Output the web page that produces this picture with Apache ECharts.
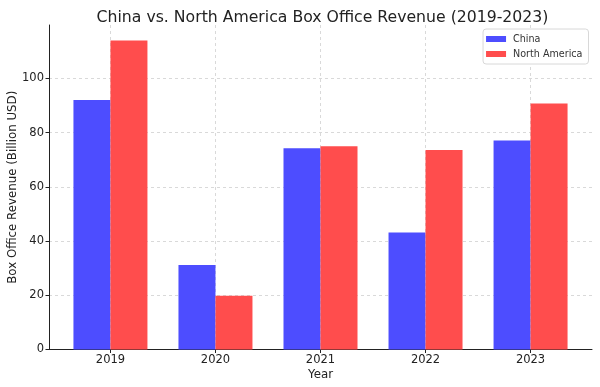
<!DOCTYPE html>
<html>
<head>
<meta charset="utf-8">
<script src="https://cdn.jsdelivr.net/npm/echarts@6/dist/echarts.min.js"></script>
<style>html,body{margin:0;padding:0;background:#fff}#c{width:600px;height:387px}</style>
</head>
<body>
<div id="c"></div>
<script>
const years = ['2019', '2020', '2021', '2022', '2023'];
const china = [92, 31.2, 74.2, 43.2, 77.1];
const northAmerica = [114, 19.8, 75, 73.6, 90.7];
const yTicks = [0, 20, 40, 60, 80, 100];

const font = 'DejaVu Sans';
const chart = echarts.init(document.getElementById('c'), null, {renderer: 'canvas'});
const idx = years.map((_, i) => i);
chart.setOption({
  animation: false,
  textStyle: {fontFamily: font},
  title: {
    text: 'China vs. North America Box Office Revenue (2019-2023)',
    left: 317.5, top: 5, textAlign: 'center',
    textStyle: {fontFamily: font, fontSize: 15.7, fontWeight: 'normal', color: '#222'}
  },
  legend: {
    right: 11.5, top: 29, orient: 'vertical', align: 'left',
    itemWidth: 20, itemHeight: 6, itemGap: 5,
    padding: [5, 6, 5, 3],
    borderColor: '#d8d8d8', borderWidth: 1, borderRadius: 3,
    backgroundColor: '#fff',
    textStyle: {fontFamily: font, fontSize: 9.6, color: '#333', padding: [0, 0, 0, 2]},
    data: [{name: 'China', icon: 'rect'}, {name: 'North America', icon: 'rect'}]
  },
  grid: {left: 49, right: 8, top: 25, bottom: 37.5, containLabel: false, outerBoundsMode: 'none'},
  xAxis: {
    type: 'value', min: -0.585, max: 4.585,
    name: 'Year', nameLocation: 'middle', nameGap: 19, nameMoveOverlap: false,
    nameTextStyle: {fontFamily: font, fontSize: 11.8, color: '#222'},
    axisLine: {show: true, onZero: false, lineStyle: {color: '#222', width: 1}},
    axisTick: {show: true, customValues: idx, length: 3.5, lineStyle: {color: '#222'}},
    axisLabel: {customValues: idx, formatter: v => years[Math.round(v)], fontFamily: font, fontSize: 11.5, color: '#222', margin: 5},
    splitLine: {show: true, lineStyle: {color: '#d0d0d0', type: [3, 3], width: 0.8}}
  },
  yAxis: {
    type: 'value', min: 0, max: 119.7,
    name: 'Box Office Revenue (Billion USD)', nameLocation: 'middle', nameGap: 30, nameMoveOverlap: false,
    nameTextStyle: {fontFamily: font, fontSize: 11.8, color: '#222'},
    axisLine: {show: true, onZero: false, lineStyle: {color: '#222', width: 1}},
    axisTick: {show: true, customValues: yTicks, length: 3.5, lineStyle: {color: '#222'}},
    axisLabel: {customValues: yTicks, fontFamily: font, fontSize: 11.5, color: '#222', margin: 5},
    splitLine: {show: true, lineStyle: {color: '#d0d0d0', type: [3, 3], width: 0.8}}
  },
  series: [
    {name: 'China', type: 'bar', barWidth: 37, barGap: '0%',
     itemStyle: {color: '#4d4dff'},
     data: china.map((v, i) => [i, v])},
    {name: 'North America', type: 'bar', barWidth: 37, barGap: '0%',
     itemStyle: {color: '#ff4d4d'},
     data: northAmerica.map((v, i) => [i, v])}
  ]
});
</script>
</body>
</html>
